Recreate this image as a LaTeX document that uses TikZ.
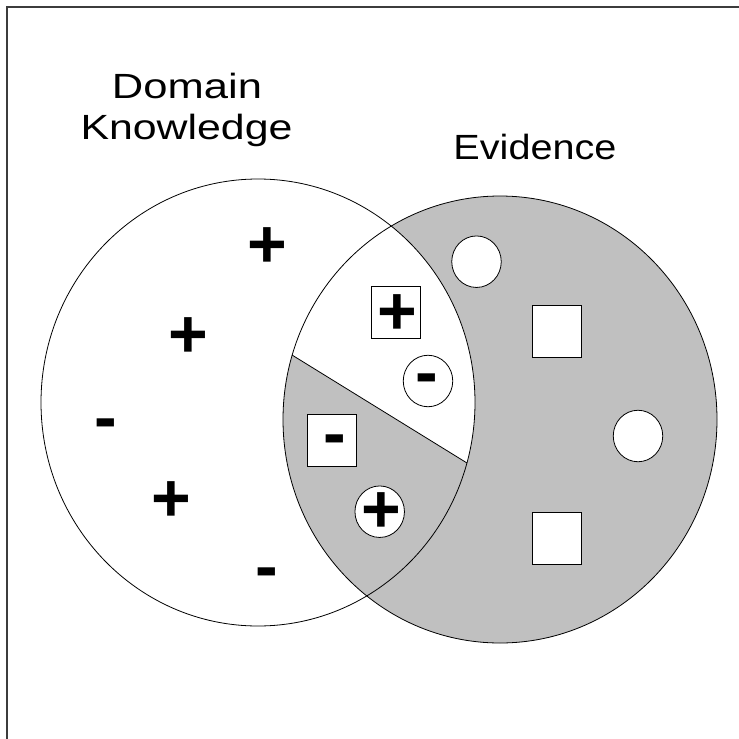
\documentclass[tikz,border=0pt]{standalone}
\usepackage{fontspec}
\setmainfont{Liberation Sans}
\usetikzlibrary{shapes.geometric}
\definecolor{silver}{RGB}{192,192,192}
\definecolor{framegray}{RGB}{60,60,60}
\begin{document}
\begin{tikzpicture}[x=1pt,y=-1pt,
  outline/.style={draw=black,line width=0.8pt},
  label/.style={inner sep=0pt,anchor=base,font=\fontsize{35}{41}\selectfont},
  sym/.style={inner sep=0pt,font=\fontsize{68}{68}\selectfont\bfseries},
  plussym/.style={sym,yshift=-3.5pt},
  minussym/.style={sym,yshift=-8pt},
  boxshape/.style={outline,fill=white,rectangle,minimum width=49.5pt,minimum height=52pt,inner sep=0pt},
  ringshape/.style={outline,fill=white,ellipse,minimum width=49.5pt,minimum height=51.5pt,inner sep=0pt}]
\useasboundingbox (0,0) rectangle (739,739);
% frame
\draw[framegray,line width=1.2pt] (739,7) -- (7,7) -- (7,739);
% circles
\coordinate (DK) at (258,402.5);
\coordinate (EV) at (500,419.5);
\coordinate (P1) at (292,355);
\coordinate (P2) at (467,463);
\fill[silver] (EV) ellipse [x radius=217, y radius=223.5];
\begin{scope}
  \clip (EV) ellipse [x radius=217, y radius=223.5];
  \clip (DK) ellipse [x radius=217, y radius=223.5];
  \fill[white] (-58,139) -- (817,679) -- (817,-100) -- (-58,-100) -- cycle;
\end{scope}
\draw[outline] (DK) ellipse [x radius=217, y radius=223.5];
\draw[outline] (EV) ellipse [x radius=217, y radius=223.5];
\draw[outline] (P1) -- (P2);
% labels
\node[label] (dom) at (187,98) {\resizebox{150pt}{\height}{Domain}};
\node[label] (know) at (186.5,139) {\resizebox{212pt}{\height}{Knowledge}};
\node[label] (evid) at (535,159) {\resizebox{163pt}{\height}{Evidence}};
% domain knowledge symbols
\node[plussym] (a1) at (267.7,244) {+};
\node[plussym] (a2) at (188.3,334.3) {+};
\node[minussym] (a3) at (105.7,421.7) {-};
\node[plussym] (a4) at (171.7,497.7) {+};
\node[minussym] (a5) at (266.7,571) {-};
% intersection symbols
\node[boxshape] (b1) at (395.7,312) {};
\node[plussym] (b1s) at (397.3,311) {+};
\node[ringshape] (r1) at (428,381) {};
\node[minussym] (r1s) at (426.7,376.7) {-};
\node[boxshape] (b2) at (331.7,440) {};
\node[minussym] (b2s) at (335,437.3) {-};
\node[ringshape] (r2) at (379.7,511.7) {};
\node[plussym] (r2s) at (381,509.3) {+};
% evidence shapes
\node[ringshape] (c1) at (476.5,261.7) {};
\node[boxshape] (s1) at (557,331.5) {};
\node[ringshape] (c2) at (638,436) {};
\node[boxshape] (s2) at (557,538.5) {};
\end{tikzpicture}
\end{document}
